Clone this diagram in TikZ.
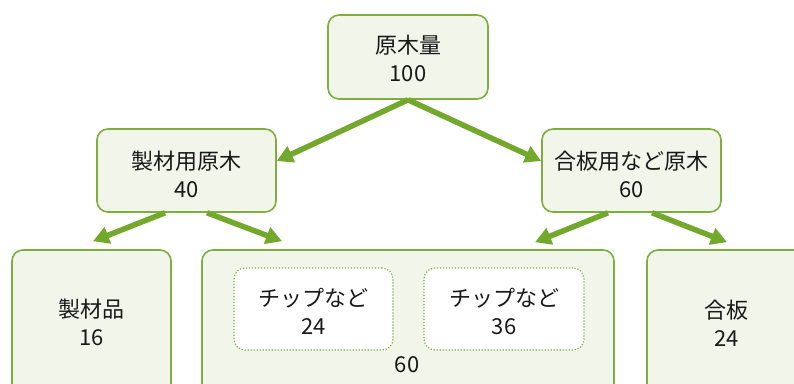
\documentclass[tikz,border=0pt]{standalone}
\usepackage{fontspec}
\setmainfont{Noto Sans CJK JP}
\usetikzlibrary{arrows.meta}
\definecolor{gborder}{HTML}{7DAE3E}
\definecolor{gfill}{HTML}{F2F5EA}
\definecolor{garrow}{HTML}{72A82C}
\begin{document}
\begin{tikzpicture}[x=1pt,y=-1pt,
 box/.style={draw=gborder, fill=gfill, line width=1.6pt, rounded corners=11pt, inner sep=0pt},
 dbox/.style={draw=gborder, fill=white, line width=1.2pt, dash pattern=on 1.2pt off 1.8pt, rounded corners=11pt, inner sep=0pt},
 lbl/.style={align=center, font=\fontsize{22}{28}\selectfont, inner sep=0pt, text=black!90},
 arr/.style={draw=garrow, line width=5.5pt, -{Triangle[length=16pt,width=17pt]}}]
\useasboundingbox (0,0) rectangle (794,383);
\clip (0,0) rectangle (794,383);
% boxes
\node[box, minimum width=160pt, minimum height=84pt] (top) at (408,57) {};
\node[box, minimum width=179pt, minimum height=83pt] (l1) at (186.5,170.5) {};
\node[box, minimum width=179pt, minimum height=83pt] (r1) at (631.5,170.5) {};
\node[box, minimum width=159pt, minimum height=145pt] (b1) at (91.5,322.5) {};
\node[box, minimum width=412pt, minimum height=145pt] (b2) at (408,322.5) {};
\node[box, minimum width=159pt, minimum height=145pt] (b3) at (726.5,322.5) {};
\node[dbox, minimum width=159pt, minimum height=82pt] (d1) at (313.5,309) {};
\node[dbox, minimum width=160pt, minimum height=82pt] (d2) at (504,309) {};
% labels
\node[lbl] (ttop) at (408,58.5) {原木量\\100};
\node[lbl] (tl1) at (186.5,174) {製材用原木\\40};
\node[lbl] (tr1) at (631.5,174) {合板用など原木\\60};
\node[lbl] (tb1) at (91.5,322) {製材品\\16};
\node[lbl] (td1) at (313.5,311.5) {チップなど\\24};
\node[lbl] (td2) at (504,311.5) {チップなど\\36};
\node[lbl] (tb2) at (407,365) {60};
\node[lbl] (tb3) at (726.5,323) {合板\\24};
% arrows
\draw[arr] (top.south) -- ([yshift=9.5pt]l1.east);
\draw[arr] (top.south) -- ([yshift=9.5pt]r1.west);
\draw[arr] ([xshift=-21.5pt]l1.south) -- ([xshift=1.5pt,yshift=8pt]b1.north);
\draw[arr] ([xshift=20.5pt]l1.south) -- ([xshift=-126pt,yshift=8pt]b2.north);
\draw[arr] ([xshift=-23.5pt]r1.south) -- ([xshift=127pt,yshift=7pt]b2.north);
\draw[arr] ([xshift=20.5pt]r1.south) -- ([xshift=0.5pt,yshift=7pt]b3.north);
\end{tikzpicture}
\end{document}
